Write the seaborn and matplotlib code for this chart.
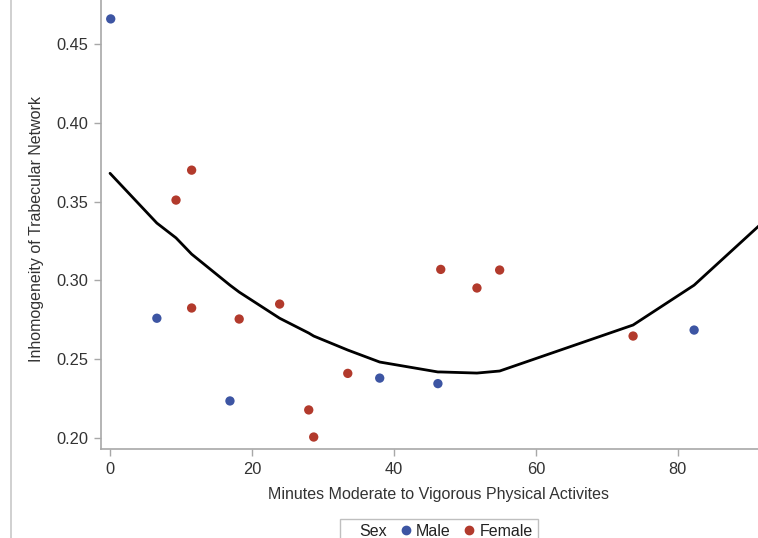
import matplotlib
matplotlib.use("Agg")
import matplotlib.pyplot as plt
from matplotlib.lines import Line2D
import seaborn as sns
import pandas as pd

# Data
male_x = [0.1, 6.6, 16.9, 38.0, 46.2, 82.3]
male_y = [0.466, 0.276, 0.2235, 0.238, 0.2345, 0.2685]
female_x = [11.5, 9.3, 11.5, 18.2, 23.9, 28.0, 28.7, 33.5, 46.6, 51.7, 54.9, 73.7]
female_y = [0.370, 0.351, 0.2825, 0.2755, 0.285, 0.2178, 0.2006, 0.241, 0.307, 0.2952, 0.3066, 0.2647]
fit_x = [0, 6.6, 9.3, 11.5, 16.9, 18.2, 23.9, 28.0, 28.7, 33.5, 38.0, 46.2, 46.6, 51.7, 54.9, 73.7, 82.3, 92.0]
fit_y = [0.368, 0.3364, 0.327, 0.3167, 0.297, 0.2926, 0.276, 0.2666, 0.2647, 0.2558, 0.2482, 0.2419, 0.2419, 0.2412, 0.2425, 0.2717, 0.297, 0.337]
y_ticks = [0.20, 0.25, 0.30, 0.35, 0.40, 0.45]
x_ticks = [0, 20, 40, 60, 80]

sns.set_style("white")
plt.rcParams['font.family'] = ['Liberation Sans', 'DejaVu Sans']

df = pd.DataFrame({
    "x": male_x + female_x,
    "y": male_y + female_y,
    "Sex": ["Male"] * len(male_x) + ["Female"] * len(female_x),
})
fit = pd.DataFrame({"x": fit_x, "y": fit_y})

colors = {"Male": "#3d55a3", "Female": "#b23a2c"}

fig = plt.figure(figsize=(7.58, 5.38), dpi=100)
ax = fig.add_axes([101/758, 1 - 449/538, 1 - 101/758, 449/538])

sns.lineplot(data=fit, x="x", y="y", ax=ax, color="black", linewidth=2, sort=False)
sns.scatterplot(data=df, x="x", y="y", hue="Sex", palette=colors, ax=ax,
                s=45, edgecolor="none", legend=False, zorder=3)

ax.set_xlim(-1.27, 91.3)
ax.set_ylim(0.193, 0.478)
ax.set_xticks(x_ticks)
ax.set_yticks(y_ticks)
ax.set_yticklabels([f"{v:.2f}" for v in y_ticks])

for s in ["top", "right"]:
    ax.spines[s].set_visible(False)
for s in ["left", "bottom"]:
    ax.spines[s].set_color("#a8a8a8")
    ax.spines[s].set_linewidth(1.2)

ax.tick_params(axis="both", which="both", direction="out", length=5, width=1,
               color="#a8a8a8", labelsize=11.8, labelcolor="#333333", pad=4,
               left=True, bottom=True)

ax.set_xlabel("Minutes Moderate to Vigorous Physical Activites", fontsize=11.5, color="#333333")
ax.set_ylabel("Inhomogeneity of Trabecular Network", fontsize=11.5, color="#333333")
ax.xaxis.set_label_coords(0.514, -0.084)
ax.yaxis.set_label_coords(-0.087, 0.49)

# outer frame line on the left
fig.add_artist(Line2D([11/758, 11/758], [0, 1], color="#c8c8c8", linewidth=1.2,
                      transform=fig.transFigure))

handles = [Line2D([], [], linestyle="none"),
           Line2D([], [], marker="o", linestyle="none", color=colors["Male"], markersize=6),
           Line2D([], [], marker="o", linestyle="none", color=colors["Female"], markersize=6)]
leg = fig.legend(handles, ["Sex", "Male", "Female"], loc="upper center",
                 bbox_to_anchor=(439/758, 1 - 519/538), ncol=3, frameon=True,
                 fontsize=11.5, handlelength=0.5, handletextpad=0.4, columnspacing=0.9,
                 borderpad=0.3, borderaxespad=0, fancybox=False, edgecolor="#b0b0b0")
for t in leg.get_texts():
    t.set_color("#222222")

fig.savefig("out.png", dpi=100)
